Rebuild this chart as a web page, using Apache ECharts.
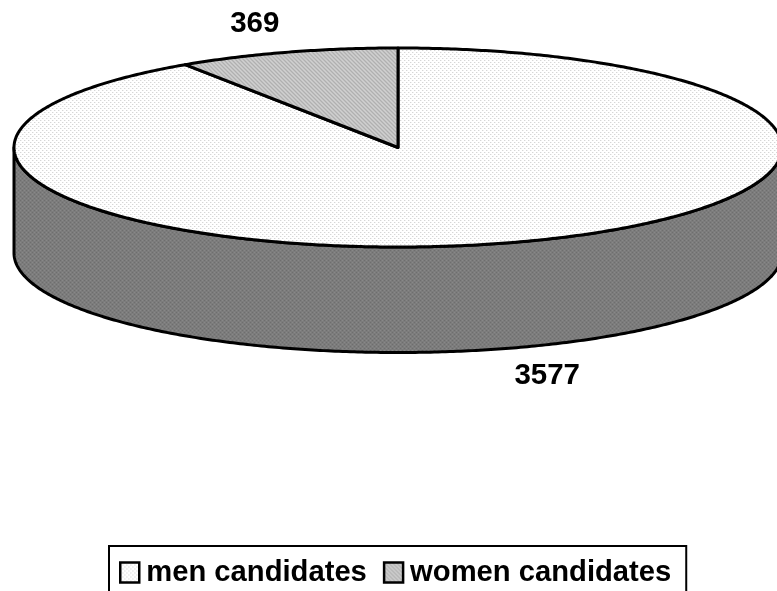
<!DOCTYPE html>
<html>
<head>
<meta charset="utf-8">
<style>html,body{margin:0;padding:0;background:#fff;overflow:hidden}#chart{width:777px;height:591px}</style>
<script src="https://cdn.jsdelivr.net/npm/echarts@6/dist/echarts.min.js"></script>
</head>
<body>
<div id="chart"></div>
<script>
// Candidates by gender
const categories = ['men candidates', 'women candidates'];
const values = [3577, 369];

// Small repeating 4x4 halftone tiles
function tile(base, dots) {
  const c = document.createElement('canvas');
  c.width = c.height = 4;
  const g = c.getContext('2d');
  g.fillStyle = base;
  g.fillRect(0, 0, 4, 4);
  dots.forEach(function (d) {
    g.fillStyle = d[2];
    g.fillRect(d[0], d[1], 1, 1);
  });
  return { image: c, repeat: 'repeat' };
}
const menFill = tile('#ffffff', [[0, 0, '#d6d6d6'], [2, 2, '#d6d6d6'], [1, 0, '#f0f0f0'], [3, 2, '#f0f0f0']]);
const womenFill = tile('#c2c2c2', [[0, 0, '#b0b0b0'], [1, 1, '#b0b0b0'], [2, 2, '#b0b0b0'], [3, 3, '#b0b0b0'], [2, 0, '#d0d0d0'], [3, 1, '#d0d0d0'], [0, 2, '#d0d0d0'], [1, 3, '#d0d0d0']]);
const wallFill = tile('#7c7c7c', [[0, 0, '#6e6e6e'], [2, 2, '#6e6e6e'], [2, 0, '#888888'], [0, 2, '#888888']]);
const fills = [menFill, womenFill];

// Tilted pie geometry
const cx = 398, cy = 147.5, rx = 384, ry = 99.5, depth = 105.5;
const total = values.reduce(function (a, b) { return a + b; }, 0);
const ink = { stroke: '#000', lineWidth: 3, lineJoin: 'round' };

// Point on the rim; angle runs clockwise from twelve o'clock
function rim(a, drop) {
  return [cx + rx * Math.sin(a), cy - ry * Math.cos(a) + (drop || 0)];
}
function arc(from, to, drop) {
  const pts = [];
  const n = Math.max(2, Math.ceil(Math.abs(to - from) / 0.01));
  for (let i = 0; i <= n; i++) pts.push(rim(from + (to - from) * i / n, drop));
  return pts;
}

function renderSlice(params, api) {
  const idx = params.seriesIndex;
  const before = values.slice(0, idx).reduce(function (a, b) { return a + b; }, 0);
  const from = before / total * Math.PI * 2;
  const to = (before + api.value(0)) / total * Math.PI * 2;
  const mid = (from + to) / 2;
  const children = [];

  // Wall below the front half of the rim
  const wFrom = Math.max(from, Math.PI / 2), wTo = Math.min(to, Math.PI * 1.5);
  const front = wTo > wFrom;
  if (front) {
    const wall = arc(wFrom, wTo, 0).concat(arc(wTo, wFrom, depth));
    children.push({ type: 'polygon', shape: { points: wall }, style: Object.assign({ fill: wallFill }, ink) });
  }
  children.push({
    type: 'polygon',
    shape: { points: [[cx, cy]].concat(arc(from, to, 0)) },
    style: Object.assign({ fill: fills[idx] }, ink)
  });

  // Value label just outside the slice's rim
  const anchor = rim(mid, front ? depth : 0);
  children.push({
    type: 'text',
    x: anchor[0] + (Math.sin(mid) > 0 ? 38 : -32),
    y: anchor[1] + (Math.cos(mid) < 0 ? 28 : -28),
    style: {
      text: String(api.value(0)),
      fontFamily: '"Liberation Sans", Arial, sans-serif',
      fontWeight: 'bold',
      fontSize: 29.5,
      fill: '#000',
      textAlign: 'center',
      textVerticalAlign: 'middle'
    }
  });
  return { type: 'group', children: children };
}

const chart = echarts.init(document.getElementById('chart'), null, { renderer: 'canvas' });
chart.setOption({
  animation: false,
  backgroundColor: '#fff',
  legend: {
    left: 109,
    top: 546,
    orient: 'horizontal',
    icon: 'rect',
    itemWidth: 19,
    itemHeight: 20,
    itemGap: 16,
    padding: [12, 15, 20, 10],
    borderColor: '#000',
    borderWidth: 2,
    selectedMode: false,
    data: categories.map(function (name, i) {
      return { name: name, itemStyle: { color: fills[i], borderColor: '#000', borderWidth: 2.5 } };
    }),
    textStyle: {
      fontFamily: '"Liberation Sans", Arial, sans-serif',
      fontWeight: 'bold',
      fontSize: 29.2,
      color: '#000',
      padding: [0, 0, 0, 2]
    }
  },
  series: categories.map(function (name, i) {
    return {
      type: 'custom',
      name: name,
      coordinateSystem: 'none',
      silent: true,
      renderItem: renderSlice,
      data: [[values[i]]]
    };
  })
});
</script>
</body>
</html>
